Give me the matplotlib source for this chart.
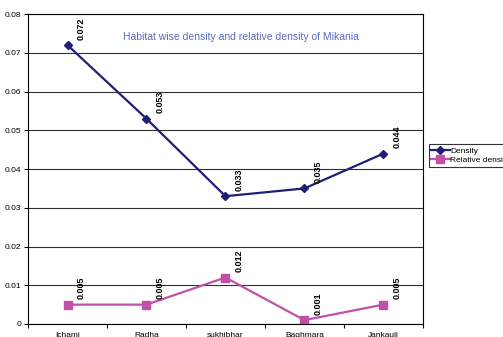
import numpy as np
import matplotlib.pyplot as plt

habitats = ["Ichami", "Radha", "sukhibhar", "Baghmara", "Jankauli"]
density = [0.072, 0.053, 0.033, 0.035, 0.044]
relative_density = [0.005, 0.005, 0.012, 0.001, 0.005]
density_labels = ["0.072", "0.053", "0.033", "0.035", "0.044"]
relative_labels = ["0.005", "0.005", "0.012", "0.001", "0.005"]

plt.rcParams['font.family'] = ['Liberation Sans', 'DejaVu Sans']

fig = plt.figure(figsize=(5.03, 3.37), dpi=100)
ax = fig.add_axes([0.0557, 0.0386, 0.785, 0.9194])

x = np.arange(len(habitats))
ax.plot(x, density, color='#1f1f78', marker='D', markersize=4.5, linewidth=1.6, label="Density")
ax.plot(x, relative_density, color='#c050a8', marker='s', markersize=5.5, linewidth=1.6,
        label="Relative density")

# rotated value labels above each point
for xi, v, t in zip(x, density, density_labels):
    ax.annotate(t, (xi, v), xytext=(10, 4), textcoords='offset points', rotation=90,
                fontsize=6.5, fontweight='bold', ha='center', va='bottom')
for xi, v, t in zip(x, relative_density, relative_labels):
    ax.annotate(t, (xi, v), xytext=(10, 4), textcoords='offset points', rotation=90,
                fontsize=6.5, fontweight='bold', ha='center', va='bottom')

ax.set_xlim(-0.5, len(habitats) - 0.5)
ax.set_ylim(0, 0.08)
ax.set_yticks(np.arange(0, 0.081, 0.01))
ax.set_yticklabels(["0", "0.01", "0.02", "0.03", "0.04", "0.05", "0.06", "0.07", "0.08"])
ax.yaxis.grid(True, color='#303030', linewidth=0.8)
ax.set_axisbelow(True)

ax.set_xticks(x)
ax.set_xticklabels(habitats)
ax.set_xticks(np.arange(-0.5, len(habitats)), minor=True)
ax.tick_params(axis='x', which='major', length=0, labelsize=6, pad=6)
ax.tick_params(axis='x', which='minor', length=3, width=0.8)
ax.tick_params(axis='y', length=3, width=0.8, labelsize=6, pad=2)

for s in ax.spines.values():
    s.set_linewidth(0.8)
    s.set_color('black')

ax.text(0.54, 0.925, "Habitat wise density and relative density of Mikania",
        transform=ax.transAxes, ha='center', va='center', fontsize=7.5, color='#5a6ac8')

leg = ax.legend(loc='upper left', bbox_to_anchor=(1.015, 0.58), fontsize=6, frameon=True,
                fancybox=False, edgecolor='black', borderpad=0.3, labelspacing=0.2,
                handlelength=2.2, handletextpad=0.1, borderaxespad=0)
leg.get_frame().set_linewidth(0.8)

fig.savefig("out.png", dpi=100)
